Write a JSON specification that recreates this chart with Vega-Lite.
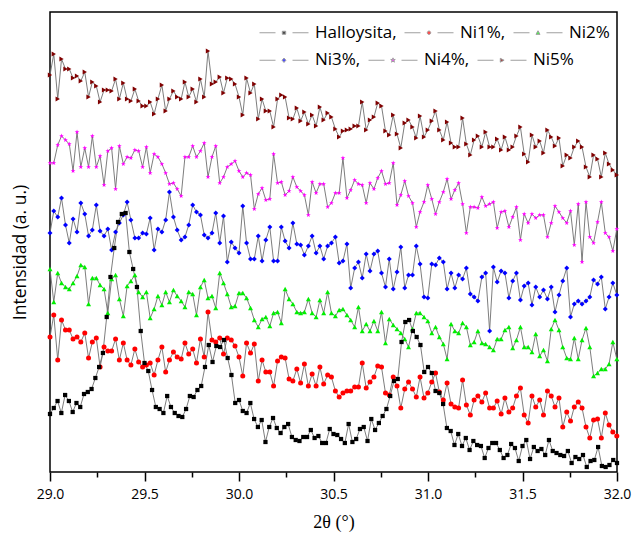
{
"$schema": "https://vega.github.io/schema/vega-lite/v6.json",
"width": 567, "height": 460,
"autosize": "none",
"padding": {"left": 50, "top": 12, "right": 17, "bottom": 71},
"background": "white",
"config": {"view": {"stroke": "black", "strokeWidth": 1.5},
 "legend": {"title": null, "orient": "none", "columns": 3, "direction": "horizontal", "gridAlign": "each",
    "columnPadding": 5, "symbolSize": 400, "symbolStrokeWidth": 1, "symbolStrokeColor": "#777777",
    "labelFont": "Open Sans", "labelFontSize": 17, "labelColor": "black", "labelOffset": 35, "labelLimit": 0, "padding": 0}},
"datasets": {
"h": [
{"x":29,"Halloysita,":86},{"x":29.02,"Halloysita,":92},{"x":29.04,"Halloysita,":99},{"x":29.06,"Halloysita,":87},{"x":29.08,"Halloysita,":105},{"x":29.1,"Halloysita,":99},{"x":29.12,"Halloysita,":88},{"x":29.14,"Halloysita,":97},{"x":29.16,"Halloysita,":93},{"x":29.18,"Halloysita,":106},
{"x":29.2,"Halloysita,":108},{"x":29.22,"Halloysita,":111},{"x":29.24,"Halloysita,":122},{"x":29.26,"Halloysita,":133},{"x":29.28,"Halloysita,":147},{"x":29.3,"Halloysita,":183},{"x":29.32,"Halloysita,":223},{"x":29.34,"Halloysita,":252},{"x":29.36,"Halloysita,":278},{"x":29.38,"Halloysita,":286},
{"x":29.4,"Halloysita,":287},{"x":29.42,"Halloysita,":248},{"x":29.44,"Halloysita,":231},{"x":29.46,"Halloysita,":213},{"x":29.48,"Halloysita,":169},{"x":29.5,"Halloysita,":137},{"x":29.52,"Halloysita,":129},{"x":29.54,"Halloysita,":110},{"x":29.56,"Halloysita,":93},{"x":29.58,"Halloysita,":91},
{"x":29.6,"Halloysita,":87},{"x":29.62,"Halloysita,":104},{"x":29.64,"Halloysita,":93},{"x":29.66,"Halloysita,":87},{"x":29.68,"Halloysita,":84},{"x":29.7,"Halloysita,":83},{"x":29.72,"Halloysita,":91},{"x":29.74,"Halloysita,":104},{"x":29.76,"Halloysita,":103},{"x":29.78,"Halloysita,":110},
{"x":29.8,"Halloysita,":114},{"x":29.82,"Halloysita,":133},{"x":29.84,"Halloysita,":155},{"x":29.86,"Halloysita,":138},{"x":29.88,"Halloysita,":154},{"x":29.9,"Halloysita,":153},{"x":29.92,"Halloysita,":160},{"x":29.94,"Halloysita,":142},{"x":29.96,"Halloysita,":125},{"x":29.98,"Halloysita,":97},
{"x":30,"Halloysita,":100},{"x":30.02,"Halloysita,":89},{"x":30.04,"Halloysita,":87},{"x":30.06,"Halloysita,":97},{"x":30.08,"Halloysita,":81},{"x":30.1,"Halloysita,":73},{"x":30.12,"Halloysita,":80},{"x":30.14,"Halloysita,":58},{"x":30.16,"Halloysita,":73},{"x":30.18,"Halloysita,":82},
{"x":30.2,"Halloysita,":72},{"x":30.22,"Halloysita,":67},{"x":30.24,"Halloysita,":73},{"x":30.26,"Halloysita,":76},{"x":30.28,"Halloysita,":63},{"x":30.3,"Halloysita,":60},{"x":30.32,"Halloysita,":59},{"x":30.34,"Halloysita,":63},{"x":30.36,"Halloysita,":63},{"x":30.38,"Halloysita,":70},
{"x":30.4,"Halloysita,":62},{"x":30.42,"Halloysita,":64},{"x":30.44,"Halloysita,":57},{"x":30.46,"Halloysita,":57},{"x":30.48,"Halloysita,":71},{"x":30.5,"Halloysita,":66},{"x":30.52,"Halloysita,":65},{"x":30.54,"Halloysita,":61},{"x":30.56,"Halloysita,":57},{"x":30.58,"Halloysita,":76},
{"x":30.6,"Halloysita,":58},{"x":30.62,"Halloysita,":61},{"x":30.64,"Halloysita,":71},{"x":30.66,"Halloysita,":73},{"x":30.68,"Halloysita,":59},{"x":30.7,"Halloysita,":81},{"x":30.72,"Halloysita,":70},{"x":30.74,"Halloysita,":77},{"x":30.76,"Halloysita,":84},{"x":30.78,"Halloysita,":91},
{"x":30.8,"Halloysita,":104},{"x":30.82,"Halloysita,":119},{"x":30.84,"Halloysita,":121},{"x":30.86,"Halloysita,":158},{"x":30.88,"Halloysita,":178},{"x":30.9,"Halloysita,":180},{"x":30.92,"Halloysita,":169},{"x":30.94,"Halloysita,":163},{"x":30.96,"Halloysita,":155},{"x":30.98,"Halloysita,":128},
{"x":31,"Halloysita,":133},{"x":31.02,"Halloysita,":127},{"x":31.04,"Halloysita,":109},{"x":31.06,"Halloysita,":107},{"x":31.08,"Halloysita,":96},{"x":31.1,"Halloysita,":72},{"x":31.12,"Halloysita,":69},{"x":31.14,"Halloysita,":55},{"x":31.16,"Halloysita,":66},{"x":31.18,"Halloysita,":54},
{"x":31.2,"Halloysita,":62},{"x":31.22,"Halloysita,":50},{"x":31.24,"Halloysita,":59},{"x":31.26,"Halloysita,":55},{"x":31.28,"Halloysita,":54},{"x":31.3,"Halloysita,":42},{"x":31.32,"Halloysita,":52},{"x":31.34,"Halloysita,":57},{"x":31.36,"Halloysita,":57},{"x":31.38,"Halloysita,":50},
{"x":31.4,"Halloysita,":42},{"x":31.42,"Halloysita,":45},{"x":31.44,"Halloysita,":56},{"x":31.46,"Halloysita,":52},{"x":31.48,"Halloysita,":39},{"x":31.5,"Halloysita,":54},{"x":31.52,"Halloysita,":60},{"x":31.54,"Halloysita,":41},{"x":31.56,"Halloysita,":53},{"x":31.58,"Halloysita,":49},
{"x":31.6,"Halloysita,":51},{"x":31.62,"Halloysita,":45},{"x":31.64,"Halloysita,":60},{"x":31.66,"Halloysita,":49},{"x":31.68,"Halloysita,":47},{"x":31.7,"Halloysita,":45},{"x":31.72,"Halloysita,":44},{"x":31.74,"Halloysita,":49},{"x":31.76,"Halloysita,":37},{"x":31.78,"Halloysita,":43},
{"x":31.8,"Halloysita,":41},{"x":31.82,"Halloysita,":45},{"x":31.84,"Halloysita,":33},{"x":31.86,"Halloysita,":39},{"x":31.88,"Halloysita,":40},{"x":31.9,"Halloysita,":53},{"x":31.92,"Halloysita,":34},{"x":31.94,"Halloysita,":33},{"x":31.96,"Halloysita,":35},{"x":31.98,"Halloysita,":40},
{"x":32,"Halloysita,":37}
],
"ni": [
{"x":29.000,"Ni1%,":163,"Ni2%":231,"Ni3%,":267,"Ni4%,":337,"Ni5%":425},
{"x":29.020,"Ni1%,":185,"Ni2%":198,"Ni3%,":289,"Ni4%,":337,"Ni5%":446},
{"x":29.041,"Ni1%,":140,"Ni2%":227,"Ni3%,":283,"Ni4%,":355,"Ni5%":401},
{"x":29.061,"Ni1%,":180,"Ni2%":217,"Ni3%,":302,"Ni4%,":364,"Ni5%":441},
{"x":29.082,"Ni1%,":170,"Ni2%":213,"Ni3%,":275,"Ni4%,":360,"Ni5%":431},
{"x":29.102,"Ni1%,":170,"Ni2%":211,"Ni3%,":257,"Ni4%,":356,"Ni5%":431},
{"x":29.122,"Ni1%,":161,"Ni2%":217,"Ni3%,":281,"Ni4%,":329,"Ni5%":422},
{"x":29.143,"Ni1%,":163,"Ni2%":224,"Ni3%,":268,"Ni4%,":368,"Ni5%":424},
{"x":29.163,"Ni1%,":158,"Ni2%":235,"Ni3%,":297,"Ni4%,":333,"Ni5%":419},
{"x":29.184,"Ni1%,":167,"Ni2%":233,"Ni3%,":286,"Ni4%,":352,"Ni5%":428},
{"x":29.204,"Ni1%,":142,"Ni2%":196,"Ni3%,":264,"Ni4%,":333,"Ni5%":403},
{"x":29.224,"Ni1%,":158,"Ni2%":222,"Ni3%,":270,"Ni4%,":364,"Ni5%":418},
{"x":29.245,"Ni1%,":162,"Ni2%":222,"Ni3%,":295,"Ni4%,":333,"Ni5%":414},
{"x":29.265,"Ni1%,":133,"Ni2%":215,"Ni3%,":269,"Ni4%,":344,"Ni5%":398},
{"x":29.286,"Ni1%,":153,"Ni2%":211,"Ni3%,":264,"Ni4%,":315,"Ni5%":410},
{"x":29.306,"Ni1%,":149,"Ni2%":187,"Ni3%,":271,"Ni4%,":349,"Ni5%":410},
{"x":29.326,"Ni1%,":149,"Ni2%":221,"Ni3%,":250,"Ni4%,":352,"Ni5%":409},
{"x":29.347,"Ni1%,":161,"Ni2%":225,"Ni3%,":268,"Ni4%,":311,"Ni5%":421},
{"x":29.367,"Ni1%,":140,"Ni2%":201,"Ni3%,":277,"Ni4%,":354,"Ni5%":401},
{"x":29.388,"Ni1%,":157,"Ni2%":184,"Ni3%,":285,"Ni4%,":336,"Ni5%":417},
{"x":29.408,"Ni1%,":140,"Ni2%":214,"Ni3%,":298,"Ni4%,":343,"Ni5%":401},
{"x":29.428,"Ni1%,":135,"Ni2%":219,"Ni3%,":280,"Ni4%,":342,"Ni5%":399},
{"x":29.449,"Ni1%,":151,"Ni2%":225,"Ni3%,":262,"Ni4%,":350,"Ni5%":411},
{"x":29.469,"Ni1%,":138,"Ni2%":208,"Ni3%,":262,"Ni4%,":349,"Ni5%":399},
{"x":29.490,"Ni1%,":133,"Ni2%":203,"Ni3%,":267,"Ni4%,":333,"Ni5%":394},
{"x":29.510,"Ni1%,":135,"Ni2%":208,"Ni3%,":266,"Ni4%,":353,"Ni5%":394},
{"x":29.530,"Ni1%,":137,"Ni2%":182,"Ni3%,":282,"Ni4%,":327,"Ni5%":398},
{"x":29.551,"Ni1%,":125,"Ni2%":191,"Ni3%,":250,"Ni4%,":346,"Ni5%":386},
{"x":29.571,"Ni1%,":140,"Ni2%":204,"Ni3%,":271,"Ni4%,":343,"Ni5%":401},
{"x":29.592,"Ni1%,":153,"Ni2%":195,"Ni3%,":268,"Ni4%,":336,"Ni5%":415},
{"x":29.612,"Ni1%,":128,"Ni2%":208,"Ni3%,":280,"Ni4%,":327,"Ni5%":389},
{"x":29.632,"Ni1%,":140,"Ni2%":198,"Ni3%,":308,"Ni4%,":316,"Ni5%":401},
{"x":29.653,"Ni1%,":148,"Ni2%":210,"Ni3%,":283,"Ni4%,":317,"Ni5%":409},
{"x":29.673,"Ni1%,":143,"Ni2%":204,"Ni3%,":270,"Ni4%,":311,"Ni5%":403},
{"x":29.694,"Ni1%,":141,"Ni2%":199,"Ni3%,":260,"Ni4%,":304,"Ni5%":401},
{"x":29.714,"Ni1%,":157,"Ni2%":193,"Ni3%,":263,"Ni4%,":343,"Ni5%":418},
{"x":29.734,"Ni1%,":146,"Ni2%":208,"Ni3%,":275,"Ni4%,":343,"Ni5%":403},
{"x":29.755,"Ni1%,":151,"Ni2%":206,"Ni3%,":295,"Ni4%,":354,"Ni5%":411},
{"x":29.775,"Ni1%,":137,"Ni2%":185,"Ni3%,":288,"Ni4%,":343,"Ni5%":398},
{"x":29.796,"Ni1%,":161,"Ni2%":213,"Ni3%,":285,"Ni4%,":349,"Ni5%":421},
{"x":29.816,"Ni1%,":143,"Ni2%":220,"Ni3%,":265,"Ni4%,":357,"Ni5%":403},
{"x":29.836,"Ni1%,":188,"Ni2%":202,"Ni3%,":262,"Ni4%,":323,"Ni5%":449},
{"x":29.857,"Ni1%,":160,"Ni2%":204,"Ni3%,":267,"Ni4%,":343,"Ni5%":416},
{"x":29.877,"Ni1%,":158,"Ni2%":192,"Ni3%,":287,"Ni4%,":354,"Ni5%":418},
{"x":29.898,"Ni1%,":162,"Ni2%":227,"Ni3%,":257,"Ni4%,":317,"Ni5%":423},
{"x":29.918,"Ni1%,":146,"Ni2%":217,"Ni3%,":284,"Ni4%,":323,"Ni5%":407},
{"x":29.938,"Ni1%,":162,"Ni2%":206,"Ni3%,":238,"Ni4%,":333,"Ni5%":422},
{"x":29.959,"Ni1%,":160,"Ni2%":193,"Ni3%,":258,"Ni4%,":336,"Ni5%":421},
{"x":29.979,"Ni1%,":154,"Ni2%":194,"Ni3%,":252,"Ni4%,":339,"Ni5%":416},
{"x":30.000,"Ni1%,":143,"Ni2%":207,"Ni3%,":247,"Ni4%,":329,"Ni5%":403},
{"x":30.020,"Ni1%,":124,"Ni2%":207,"Ni3%,":294,"Ni4%,":323,"Ni5%":385},
{"x":30.040,"Ni1%,":157,"Ni2%":202,"Ni3%,":257,"Ni4%,":327,"Ni5%":422},
{"x":30.061,"Ni1%,":147,"Ni2%":192,"Ni3%,":241,"Ni4%,":325,"Ni5%":407},
{"x":30.081,"Ni1%,":156,"Ni2%":180,"Ni3%,":241,"Ni4%,":291,"Ni5%":416},
{"x":30.102,"Ni1%,":119,"Ni2%":173,"Ni3%,":264,"Ni4%,":306,"Ni5%":381},
{"x":30.122,"Ni1%,":140,"Ni2%":181,"Ni3%,":239,"Ni4%,":312,"Ni5%":401},
{"x":30.142,"Ni1%,":128,"Ni2%":183,"Ni3%,":260,"Ni4%,":300,"Ni5%":389},
{"x":30.163,"Ni1%,":128,"Ni2%":174,"Ni3%,":273,"Ni4%,":301,"Ni5%":389},
{"x":30.183,"Ni1%,":114,"Ni2%":187,"Ni3%,":239,"Ni4%,":346,"Ni5%":373},
{"x":30.204,"Ni1%,":139,"Ni2%":188,"Ni3%,":239,"Ni4%,":317,"Ni5%":401},
{"x":30.224,"Ni1%,":143,"Ni2%":177,"Ni3%,":273,"Ni4%,":318,"Ni5%":405},
{"x":30.244,"Ni1%,":142,"Ni2%":211,"Ni3%,":259,"Ni4%,":305,"Ni5%":403},
{"x":30.265,"Ni1%,":121,"Ni2%":201,"Ni3%,":252,"Ni4%,":309,"Ni5%":382},
{"x":30.285,"Ni1%,":119,"Ni2%":196,"Ni3%,":277,"Ni4%,":323,"Ni5%":381},
{"x":30.306,"Ni1%,":131,"Ni2%":188,"Ni3%,":256,"Ni4%,":313,"Ni5%":392},
{"x":30.326,"Ni1%,":117,"Ni2%":187,"Ni3%,":255,"Ni4%,":309,"Ni5%":379},
{"x":30.346,"Ni1%,":136,"Ni2%":188,"Ni3%,":245,"Ni4%,":305,"Ni5%":388},
{"x":30.367,"Ni1%,":114,"Ni2%":201,"Ni3%,":254,"Ni4%,":285,"Ni5%":376},
{"x":30.387,"Ni1%,":126,"Ni2%":187,"Ni3%,":264,"Ni4%,":318,"Ni5%":385},
{"x":30.408,"Ni1%,":114,"Ni2%":183,"Ni3%,":247,"Ni4%,":307,"Ni5%":374},
{"x":30.428,"Ni1%,":133,"Ni2%":200,"Ni3%,":254,"Ni4%,":316,"Ni5%":393},
{"x":30.448,"Ni1%,":116,"Ni2%":187,"Ni3%,":241,"Ni4%,":316,"Ni5%":380},
{"x":30.469,"Ni1%,":125,"Ni2%":208,"Ni3%,":254,"Ni4%,":293,"Ni5%":387},
{"x":30.489,"Ni1%,":123,"Ni2%":187,"Ni3%,":257,"Ni4%,":297,"Ni5%":383},
{"x":30.510,"Ni1%,":109,"Ni2%":184,"Ni3%,":263,"Ni4%,":307,"Ni5%":371},
{"x":30.530,"Ni1%,":103,"Ni2%":190,"Ni3%,":237,"Ni4%,":307,"Ni5%":363},
{"x":30.550,"Ni1%,":107,"Ni2%":191,"Ni3%,":239,"Ni4%,":342,"Ni5%":369},
{"x":30.571,"Ni1%,":109,"Ni2%":185,"Ni3%,":256,"Ni4%,":302,"Ni5%":370},
{"x":30.591,"Ni1%,":109,"Ni2%":180,"Ni3%,":212,"Ni4%,":310,"Ni5%":371},
{"x":30.612,"Ni1%,":113,"Ni2%":173,"Ni3%,":232,"Ni4%,":320,"Ni5%":374},
{"x":30.632,"Ni1%,":113,"Ni2%":193,"Ni3%,":238,"Ni4%,":316,"Ni5%":374},
{"x":30.652,"Ni1%,":137,"Ni2%":169,"Ni3%,":222,"Ni4%,":315,"Ni5%":398},
{"x":30.673,"Ni1%,":112,"Ni2%":176,"Ni3%,":246,"Ni4%,":297,"Ni5%":370},
{"x":30.693,"Ni1%,":118,"Ni2%":169,"Ni3%,":229,"Ni4%,":317,"Ni5%":380},
{"x":30.714,"Ni1%,":123,"Ni2%":179,"Ni3%,":246,"Ni4%,":311,"Ni5%":383},
{"x":30.734,"Ni1%,":134,"Ni2%":169,"Ni3%,":249,"Ni4%,":322,"Ni5%":397},
{"x":30.754,"Ni1%,":133,"Ni2%":188,"Ni3%,":227,"Ni4%,":329,"Ni5%":394},
{"x":30.775,"Ni1%,":107,"Ni2%":157,"Ni3%,":213,"Ni4%,":316,"Ni5%":369},
{"x":30.795,"Ni1%,":105,"Ni2%":181,"Ni3%,":241,"Ni4%,":317,"Ni5%":365},
{"x":30.816,"Ni1%,":123,"Ni2%":175,"Ni3%,":211,"Ni4%,":337,"Ni5%":385},
{"x":30.836,"Ni1%,":114,"Ni2%":171,"Ni3%,":228,"Ni4%,":295,"Ni5%":366},
{"x":30.856,"Ni1%,":92,"Ni2%":167,"Ni3%,":253,"Ni4%,":305,"Ni5%":352},
{"x":30.877,"Ni1%,":111,"Ni2%":161,"Ni3%,":212,"Ni4%,":319,"Ni5%":377},
{"x":30.897,"Ni1%,":118,"Ni2%":153,"Ni3%,":225,"Ni4%,":304,"Ni5%":380},
{"x":30.918,"Ni1%,":111,"Ni2%":171,"Ni3%,":225,"Ni4%,":297,"Ni5%":373},
{"x":30.938,"Ni1%,":103,"Ni2%":187,"Ni3%,":254,"Ni4%,":273,"Ni5%":362},
{"x":30.958,"Ni1%,":123,"Ni2%":187,"Ni3%,":236,"Ni4%,":288,"Ni5%":384},
{"x":30.979,"Ni1%,":102,"Ni2%":183,"Ni3%,":203,"Ni4%,":298,"Ni5%":363},
{"x":30.999,"Ni1%,":107,"Ni2%":179,"Ni3%,":202,"Ni4%,":315,"Ni5%":370},
{"x":31.020,"Ni1%,":118,"Ni2%":167,"Ni3%,":236,"Ni4%,":301,"Ni5%":379},
{"x":31.040,"Ni1%,":127,"Ni2%":173,"Ni3%,":235,"Ni4%,":286,"Ni5%":389},
{"x":31.060,"Ni1%,":108,"Ni2%":163,"Ni3%,":242,"Ni4%,":298,"Ni5%":370},
{"x":31.081,"Ni1%,":100,"Ni2%":156,"Ni3%,":238,"Ni4%,":308,"Ni5%":360},
{"x":31.101,"Ni1%,":117,"Ni2%":141,"Ni3%,":211,"Ni4%,":321,"Ni5%":378},
{"x":31.122,"Ni1%,":96,"Ni2%":176,"Ni3%,":227,"Ni4%,":301,"Ni5%":357},
{"x":31.142,"Ni1%,":93,"Ni2%":169,"Ni3%,":212,"Ni4%,":310,"Ni5%":353},
{"x":31.162,"Ni1%,":92,"Ni2%":167,"Ni3%,":225,"Ni4%,":317,"Ni5%":353},
{"x":31.183,"Ni1%,":120,"Ni2%":177,"Ni3%,":221,"Ni4%,":296,"Ni5%":382},
{"x":31.203,"Ni1%,":95,"Ni2%":173,"Ni3%,":232,"Ni4%,":267,"Ni5%":356},
{"x":31.224,"Ni1%,":85,"Ni2%":155,"Ni3%,":206,"Ni4%,":293,"Ni5%":345},
{"x":31.244,"Ni1%,":100,"Ni2%":158,"Ni3%,":203,"Ni4%,":293,"Ni5%":360},
{"x":31.264,"Ni1%,":104,"Ni2%":169,"Ni3%,":199,"Ni4%,":292,"Ni5%":364},
{"x":31.285,"Ni1%,":98,"Ni2%":157,"Ni3%,":223,"Ni4%,":303,"Ni5%":353},
{"x":31.305,"Ni1%,":107,"Ni2%":156,"Ni3%,":227,"Ni4%,":294,"Ni5%":368},
{"x":31.326,"Ni1%,":92,"Ni2%":153,"Ni3%,":169,"Ni4%,":296,"Ni5%":353},
{"x":31.346,"Ni1%,":92,"Ni2%":150,"Ni3%,":233,"Ni4%,":298,"Ni5%":353},
{"x":31.366,"Ni1%,":99,"Ni2%":161,"Ni3%,":218,"Ni4%,":272,"Ni5%":361},
{"x":31.387,"Ni1%,":86,"Ni2%":161,"Ni3%,":229,"Ni4%,":288,"Ni5%":350},
{"x":31.407,"Ni1%,":102,"Ni2%":170,"Ni3%,":227,"Ni4%,":289,"Ni5%":363},
{"x":31.428,"Ni1%,":88,"Ni2%":173,"Ni3%,":202,"Ni4%,":273,"Ni5%":350},
{"x":31.448,"Ni1%,":92,"Ni2%":152,"Ni3%,":219,"Ni4%,":283,"Ni5%":353},
{"x":31.468,"Ni1%,":104,"Ni2%":160,"Ni3%,":227,"Ni4%,":293,"Ni5%":364},
{"x":31.489,"Ni1%,":112,"Ni2%":173,"Ni3%,":200,"Ni4%,":260,"Ni5%":373},
{"x":31.509,"Ni1%,":85,"Ni2%":153,"Ni3%,":214,"Ni4%,":286,"Ni5%":346},
{"x":31.530,"Ni1%,":77,"Ni2%":153,"Ni3%,":217,"Ni4%,":277,"Ni5%":338},
{"x":31.550,"Ni1%,":104,"Ni2%":148,"Ni3%,":195,"Ni4%,":286,"Ni5%":365},
{"x":31.570,"Ni1%,":93,"Ni2%":166,"Ni3%,":213,"Ni4%,":282,"Ni5%":353},
{"x":31.591,"Ni1%,":100,"Ni2%":144,"Ni3%,":203,"Ni4%,":285,"Ni5%":359},
{"x":31.611,"Ni1%,":85,"Ni2%":150,"Ni3%,":210,"Ni4%,":285,"Ni5%":347},
{"x":31.632,"Ni1%,":109,"Ni2%":139,"Ni3%,":201,"Ni4%,":263,"Ni5%":370},
{"x":31.652,"Ni1%,":104,"Ni2%":171,"Ni3%,":213,"Ni4%,":277,"Ni5%":363},
{"x":31.672,"Ni1%,":93,"Ni2%":180,"Ni3%,":188,"Ni4%,":294,"Ni5%":354},
{"x":31.693,"Ni1%,":102,"Ni2%":170,"Ni3%,":205,"Ni4%,":288,"Ni5%":362},
{"x":31.713,"Ni1%,":73,"Ni2%":153,"Ni3%,":219,"Ni4%,":282,"Ni5%":334},
{"x":31.734,"Ni1%,":88,"Ni2%":142,"Ni3%,":232,"Ni4%,":277,"Ni5%":345},
{"x":31.754,"Ni1%,":79,"Ni2%":141,"Ni3%,":183,"Ni4%,":289,"Ni5%":342},
{"x":31.774,"Ni1%,":93,"Ni2%":162,"Ni3%,":196,"Ni4%,":255,"Ni5%":353},
{"x":31.795,"Ni1%,":98,"Ni2%":141,"Ni3%,":199,"Ni4%,":296,"Ni5%":359},
{"x":31.815,"Ni1%,":92,"Ni2%":160,"Ni3%,":196,"Ni4%,":238,"Ni5%":353},
{"x":31.836,"Ni1%,":73,"Ni2%":172,"Ni3%,":199,"Ni4%,":298,"Ni5%":333},
{"x":31.856,"Ni1%,":62,"Ni2%":153,"Ni3%,":203,"Ni4%,":263,"Ni5%":323},
{"x":31.876,"Ni1%,":80,"Ni2%":124,"Ni3%,":220,"Ni4%,":257,"Ni5%":345},
{"x":31.897,"Ni1%,":81,"Ni2%":127,"Ni3%,":216,"Ni4%,":278,"Ni5%":341},
{"x":31.917,"Ni1%,":62,"Ni2%":131,"Ni3%,":223,"Ni4%,":298,"Ni5%":323},
{"x":31.938,"Ni1%,":87,"Ni2%":131,"Ni3%,":191,"Ni4%,":267,"Ni5%":347},
{"x":31.958,"Ni1%,":75,"Ni2%":136,"Ni3%,":203,"Ni4%,":263,"Ni5%":336},
{"x":31.978,"Ni1%,":68,"Ni2%":158,"Ni3%,":217,"Ni4%,":249,"Ni5%":330},
{"x":31.999,"Ni1%,":64,"Ni2%":141,"Ni3%,":205,"Ni4%,":271,"Ni5%":325}
]
},
"encoding": {
"x": {"field": "x", "type": "quantitative", "scale": {"domain": [29, 32], "nice": false, "zero": false},
 "axis": {"values": [29,29.25,29.5,29.75,30,30.25,30.5,30.75,31,31.25,31.5,31.75,32],
  "labelExpr": "datum.value % 0.5 === 0 ? format(datum.value, '.1f') : ''",
  "tickSize": {"condition": {"test": "datum.value % 0.5 === 0", "value": 9}, "value": 5},
  "tickColor": "black", "tickWidth": 1.5, "domain": false, "grid": false,
  "labelFont": "Open Sans", "labelFontSize": 14, "labelColor": "black", "labelPadding": 6, "labelFlush": false,
  "title": "2θ (°)", "titleFont": "Liberation Serif", "titleFontSize": 18, "titleFontWeight": "normal", "titleColor": "black", "titlePadding": 12}},
"y": {"field": "v", "type": "quantitative", "scale": {"domain": [28, 488], "nice": false, "zero": false},
 "axis": {"labels": false, "ticks": false, "domain": false, "grid": false,
  "title": "Intensidad (a. u.)", "titleFont": "Open Sans", "titleFontSize": 17.5, "titleFontWeight": "normal", "titleColor": "black", "titlePadding": 21, "titleY": 240}}
},
"layer": [
{"data": {"name": "ni"}, "transform": [{"fold": ["Ni1%,","Ni2%","Ni3%,","Ni4%,","Ni5%"], "as": ["s","v"]}],
 "mark": {"type": "line", "color": "#6e6e6e", "strokeWidth": 0.9},
 "encoding": {"detail": {"field": "s"}}},
{"data": {"name": "h"}, "transform": [{"fold": ["Halloysita,"], "as": ["s","v"]}],
 "mark": {"type": "line", "color": "#6e6e6e", "strokeWidth": 0.9},
 "encoding": {"detail": {"field": "s"}}},
{"data": {"name": "ni"}, "transform": [{"fold": ["Ni1%,","Ni2%","Ni3%,","Ni4%,","Ni5%"], "as": ["s","v"]}],
 "mark": {"type": "point", "filled": true, "size": 25, "opacity": 1},
 "encoding": {
  "shape": {"field": "s", "type": "nominal", "legend": null, "scale": {"domain": ["Halloysita,","Ni1%,","Ni2%","Ni3%,","Ni4%,","Ni5%"], "range": ["square","circle","triangle-up","diamond","M0,-1L0.235,-0.324L0.951,-0.309L0.381,0.124L0.588,0.809L0,0.4L-0.588,0.809L-0.381,0.124L-0.951,-0.309L-0.235,-0.324Z","triangle-right"]}},
  "color": {"field": "s", "type": "nominal", "legend": null, "scale": {"domain": ["Halloysita,","Ni1%,","Ni2%","Ni3%,","Ni4%,","Ni5%"], "range": ["#000000","#ff0000","#00ee00","#0000ff","#ff00ff","#800000"]}}}},
{"data": {"name": "h"}, "transform": [{"fold": ["Halloysita,"], "as": ["s","v"]}],
 "mark": {"type": "point", "filled": true, "size": 18, "opacity": 1},
 "encoding": {
  "shape": {"field": "s", "type": "nominal", "legend": null, "scale": {"domain": ["Halloysita,","Ni1%,","Ni2%","Ni3%,","Ni4%,","Ni5%"], "range": ["square","circle","triangle-up","diamond","M0,-1L0.235,-0.324L0.951,-0.309L0.381,0.124L0.588,0.809L0,0.4L-0.588,0.809L-0.381,0.124L-0.951,-0.309L-0.235,-0.324Z","triangle-right"]}},
  "color": {"field": "s", "type": "nominal", "legend": null, "scale": {"domain": ["Halloysita,","Ni1%,","Ni2%","Ni3%,","Ni4%,","Ni5%"], "range": ["#000000","#ff0000","#00ee00","#0000ff","#ff00ff","#800000"]}}}},
{"data": {"name": "h"}, "transform": [{"fold": ["Halloysita,"], "as": ["s","v"]}, {"filter": "false"}],
 "mark": {"type": "point", "filled": true},
 "encoding": {
  "shape": {"field": "s", "type": "nominal",
   "scale": {"domain": ["Halloysita,","Ni1%,","Ni2%"], "range": [
    "M-1,0H0.6M2.3,0H3.9M1.28,-0.15H1.62V0.15H1.28Z",
    "M-1,0H0.6M2.3,0H3.9M1.28,0A0.17,0.17,0,1,0,1.62,0A0.17,0.17,0,1,0,1.28,0Z",
    "M-1,0H0.6M2.3,0H3.9M1.45,-0.2L1.65,0.16L1.25,0.16Z"]},
   "legend": {"legendX": 209, "legendY": 10,
    "encode": {"symbols": {"update": {"stroke": {"value": "#777777"}, "strokeWidth": {"value": 1}, "opacity": {"value": 1}}}}}},
  "color": {"field": "s", "type": "nominal",
   "scale": {"domain": ["Halloysita,","Ni1%,","Ni2%"], "range": ["#000000","#ff0000","#00ee00"]},
   "legend": {"legendX": 209, "legendY": 10,
    "encode": {"symbols": {"update": {"stroke": {"value": "#777777"}, "strokeWidth": {"value": 1}, "opacity": {"value": 1}}}}}}}},
{"data": {"name": "h"}, "transform": [{"fold": ["Halloysita,"], "as": ["s","v"]}, {"filter": "false"}],
 "mark": {"type": "point", "filled": true},
 "encoding": {
  "shape": {"field": "s", "type": "nominal",
   "scale": {"domain": ["Ni3%,","Ni4%,","Ni5%"], "range": [
    "M-1,0H0.6M2.3,0H3.9M1.45,-0.22L1.64,0L1.45,0.22L1.26,0Z",
    "M-1,0H0.6M2.3,0H3.9M1.45,-0.24L1.506,-0.078L1.678,-0.074L1.541,0.03L1.591,0.194L1.45,0.096L1.309,0.194L1.359,0.03L1.222,-0.074L1.394,-0.078Z",
    "M-1,0H0.6M2.3,0H3.9M1.28,-0.19L1.66,0L1.28,0.19Z"]},
   "legend": {"legendX": 209, "legendY": 37.5,
    "encode": {"symbols": {"update": {"stroke": {"value": "#777777"}, "strokeWidth": {"value": 1}, "opacity": {"value": 1}}}}}},
  "color": {"field": "s", "type": "nominal",
   "scale": {"domain": ["Ni3%,","Ni4%,","Ni5%"], "range": ["#0000ff","#ff00ff","#800000"]},
   "legend": {"legendX": 209, "legendY": 37.5,
    "encode": {"symbols": {"update": {"stroke": {"value": "#777777"}, "strokeWidth": {"value": 1}, "opacity": {"value": 1}}}}}}}}
],
"resolve": {"scale": {"shape": "independent", "color": "independent"}}
}
